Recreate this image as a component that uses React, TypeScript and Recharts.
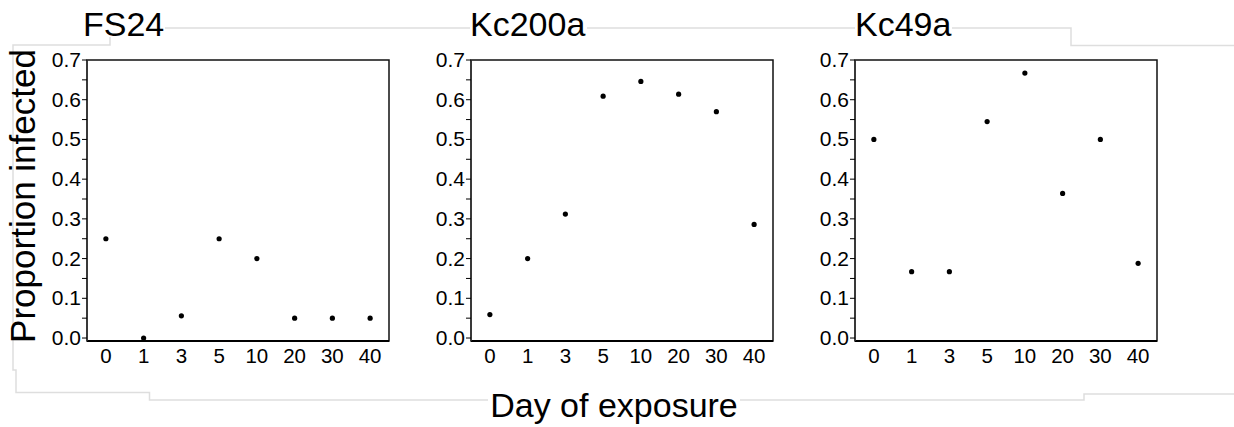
import { ReferenceArea, Scatter, ScatterChart, XAxis, YAxis } from 'recharts';

const days = ['0', '1', '3', '5', '10', '20', '30', '40'];
const fs24 = [0.25, 0.0, 0.056, 0.25, 0.2, 0.05, 0.05, 0.05];
const kc200a = [0.059, 0.2, 0.312, 0.609, 0.646, 0.614, 0.57, 0.286];
const kc49a = [0.5, 0.167, 0.167, 0.545, 0.667, 0.364, 0.5, 0.188];
const yTicks = [0, 0.05, 0.1, 0.15, 0.2, 0.25, 0.3, 0.35, 0.4, 0.45, 0.5, 0.55, 0.6, 0.65, 0.7];

const FONT = '"Liberation Sans", Arial, sans-serif';
const PLOT_W = 302;
const Y_MIN = -0.0075;
const Y_MAX = 0.7;

const YTick = ({ x, y, payload }: any) => {
  const v = Number(payload.value);
  if (Math.round(v * 100) % 10 !== 0) return null;
  return (
    <text x={x} y={y} dy={7} textAnchor="end" fontSize={21} fill="#000" fontFamily={FONT}>
      {v.toFixed(1)}
    </text>
  );
};

const XTick = ({ x, y, payload }: any) => (
  <text x={x} y={y} dy={22} textAnchor="middle" fontSize={20.5} fill="#000" fontFamily={FONT}>
    {payload.value}
  </text>
);

const Dot = ({ cx, cy }: any) => <circle cx={cx} cy={cy} r={2.6} fill="#000" />;

type PanelProps = { values: number[]; left: number; yWidth: number };

function Panel({ values, left, yWidth }: PanelProps) {
  const data = days.map((day, i) => ({ day, value: values[i] }));
  return (
    <div style={{ position: 'absolute', left, top: 0 }}>
      <ScatterChart
        width={yWidth + PLOT_W + 10}
        height={427}
        margin={{ top: 60, right: 10, bottom: 0, left: 0 }}
      >
        {/* frame: top and right edges */}
        <ReferenceArea
          xAxisId="b"
          yAxisId="l"
          x1={days[0]}
          x2={days[days.length - 1]}
          y1={Y_MIN}
          y2={Y_MAX}
          fill="none"
          fillOpacity={0}
          stroke="#111"
          strokeWidth={1.5}
        />
        <XAxis
          xAxisId="b"
          dataKey="day"
          type="category"
          allowDuplicatedCategory={false}
          interval={0}
          height={86}
          tickLine={false}
          tickSize={0}
          tickMargin={0}
          tick={<XTick />}
          axisLine={{ stroke: '#000', strokeWidth: 2 }}
        />
        <YAxis
          yAxisId="l"
          type="number"
          domain={[Y_MIN, Y_MAX]}
          ticks={yTicks}
          interval={0}
          width={yWidth}
          tickSize={5}
          tickMargin={1}
          tick={<YTick />}
          tickLine={{ stroke: '#000' }}
          axisLine={{ stroke: '#333', strokeWidth: 1.5 }}
        />
        <Scatter
          data={data}
          dataKey="value"
          xAxisId="b"
          yAxisId="l"
          shape={<Dot />}
          isAnimationActive={false}
        />
      </ScatterChart>
    </div>
  );
}

export default function App() {
  const faint = '#dedede';
  return (
    <div
      style={{
        position: 'absolute',
        left: 0,
        top: 0,
        width: 1234,
        height: 427,
        background: '#fff',
        overflow: 'hidden',
        fontFamily: FONT,
      }}
    >
      <svg width={1234} height={427} style={{ position: 'absolute', left: 0, top: 0 }}>
        <g stroke={faint} strokeWidth={1.5} fill="none">
          <polyline points="165,28 470,28" />
          <polyline points="587,28 855,28" />
          <polyline points="952,28 1071,28 1071,45.5 1234,45.5" />
          <polyline points="110,37 110,45 13,45 13,370 16,370 16,392.5 149.5,392.5 149.5,400 488,400" />
          <polyline points="740,400 1084,400 1084,394 1234,394" />
        </g>
      </svg>
      <Panel values={fs24} left={40} yWidth={47} />
      <Panel values={kc200a} left={420} yWidth={51} />
      <Panel values={kc49a} left={804} yWidth={51} />
      <svg width={1234} height={427} style={{ position: 'absolute', left: 0, top: 0, pointerEvents: 'none' }}>
        <g fontFamily={FONT} fill="#000" fontSize={34}>
          <text x={83} y={36}>FS24</text>
          <text x={470} y={36}>Kc200a</text>
          <text x={855} y={36}>Kc49a</text>
          <text x={614} y={417} textAnchor="middle">Day of exposure</text>
          <text x={35} y={196} fontSize={35} textAnchor="middle" transform="rotate(-90 35 196)">
            Proportion infected
          </text>
        </g>
      </svg>
    </div>
  );
}
